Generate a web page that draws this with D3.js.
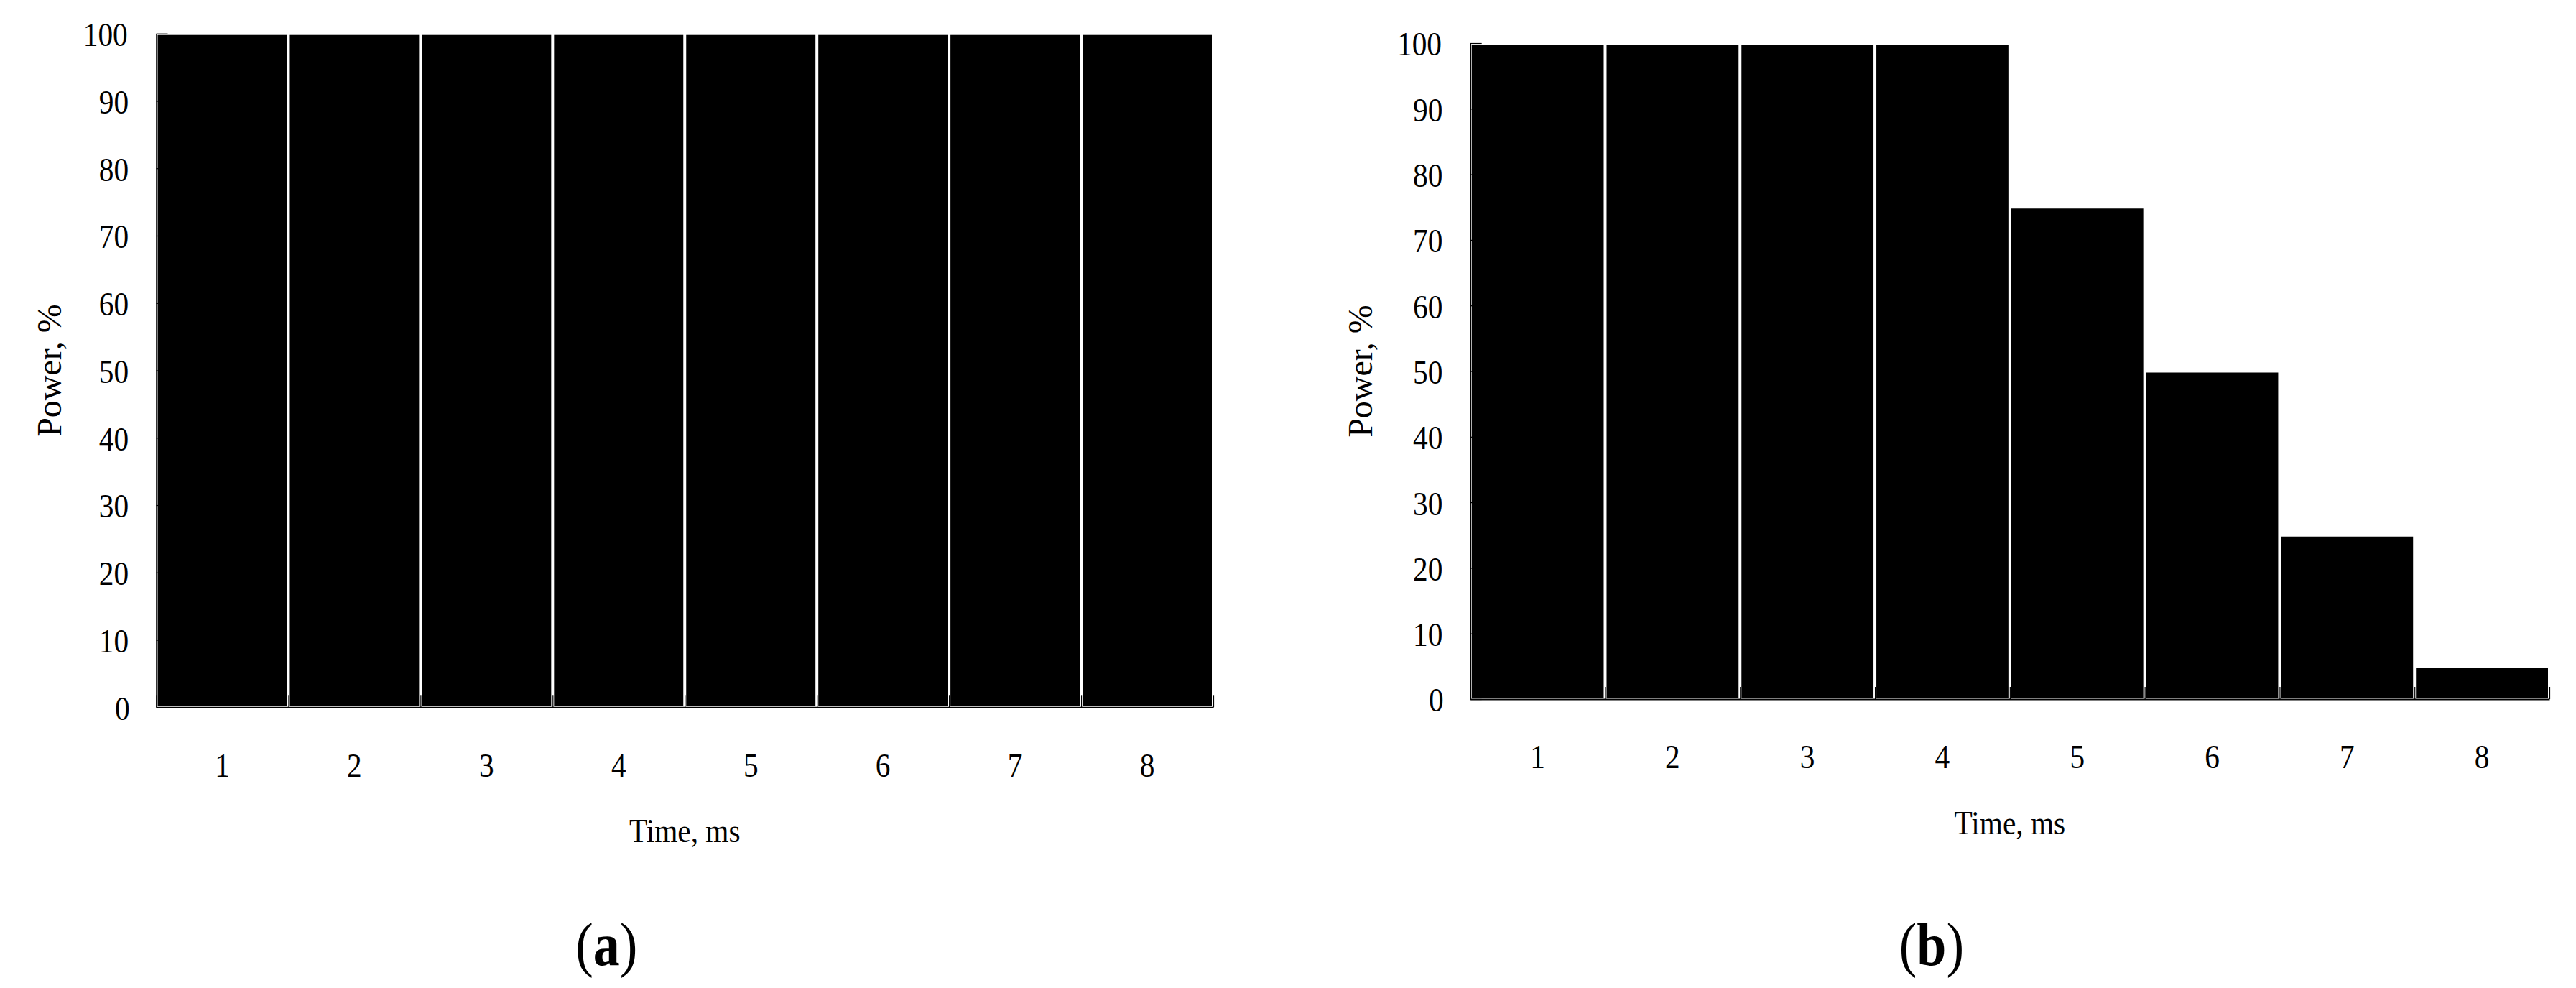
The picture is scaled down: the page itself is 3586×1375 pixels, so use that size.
<!DOCTYPE html>
<html lang="en">
<head>
<meta charset="UTF-8">
<title>Power vs time</title>
<script src="https://d3js.org/d3.v7.min.js"></script>
<style>
body { margin: 0; background: #fff; }
svg text { font-family: "Liberation Serif", "Times New Roman", serif; fill: #000; }
.lbl { transform-box: fill-box; transform-origin: center; transform: scaleX(0.88); }
.axis path, .axis line { stroke: #000; }
</style>
</head>
<body>
<svg id="chart"></svg>
<script>
// data
const times = ["1", "2", "3", "4", "5", "6", "7", "8"];
const powerA = [100, 100, 100, 100, 100, 100, 100, 100];
const powerB = [100, 100, 100, 100, 75, 50, 25, 5];
const yTicks = [0, 10, 20, 30, 40, 50, 60, 70, 80, 90, 100];
const xTitle = "Time, ms";
const yTitle = "Power, %";
const tags = ["(a)", "(b)"];

var W = 3586, H = 1375;
var svg = d3.select("#chart").attr("width", W).attr("height", H);

// plot boxes for the two panels
var layouts = [
  {x0: 217.5, x1: 1689, yTop: 46.7, yBot: 984.3, yTitleOff: 132.5},
  {x0: 2046.7, x1: 3549, yTop: 60, yBot: 973, yTitleOff: 136.5}
];

function drawPanel(values, L, tag) {
  var g = svg.append("g");

  var x = d3.scaleBand().domain(times).range([L.x0, L.x1]).padding(0);
  var edge = d3.scaleLinear().domain([0, times.length]).range([L.x0, L.x1]);
  var y = d3.scaleLinear().domain([0, 100]).range([L.yBot, L.yTop]);

  // y axis, ticks point inward
  var ya = g.append("g")
    .attr("class", "axis")
    .attr("transform", "translate(" + L.x0 + ",0)")
    .call(d3.axisLeft(y).tickValues(yTicks).tickSizeInner(-16).tickSizeOuter(0).tickPadding(35.5));
  ya.select(".domain").attr("stroke-width", 1.6);
  ya.selectAll(".tick line").attr("stroke-width", 1.2);
  ya.selectAll("text")
    .attr("class", "lbl")
    .attr("dy", "0.36em")
    .style("font-size", "47px");

  // x axis: boundary ticks between bars
  var xa = g.append("g")
    .attr("class", "axis")
    .attr("transform", "translate(0," + L.yBot + ")")
    .call(d3.axisBottom(edge).tickValues(d3.range(times.length + 1)).tickSizeInner(-17).tickSizeOuter(0).tickFormat(""));
  xa.select(".domain").attr("stroke-width", 2);
  xa.selectAll(".tick line").attr("stroke-width", 1.2);

  // category labels centred under bars
  var xl = g.append("g")
    .attr("transform", "translate(0," + L.yBot + ")")
    .call(d3.axisBottom(x).tickSize(0));
  xl.select(".domain").remove();
  xl.selectAll("text")
    .attr("class", "lbl")
    .attr("y", 96.5)
    .attr("dy", null)
    .style("font-size", "47px");

  // bars (black with a thin white rim)
  g.selectAll("rect.bar")
    .data(values)
    .join("rect")
    .attr("class", "bar")
    .attr("x", function(d, i) { return x(times[i]) + 2; })
    .attr("width", x.bandwidth() - 4)
    .attr("y", function(d) { return y(d) + 2; })
    .attr("height", function(d) { return y(0) - y(d) - 4; })
    .attr("fill", "#000");

  var cx = (L.x0 + L.x1) / 2;

  g.append("text")
    .attr("class", "lbl")
    .attr("x", cx)
    .attr("y", L.yBot + 188)
    .attr("text-anchor", "middle")
    .style("font-size", "47px")
    .text(xTitle);

  g.append("text")
    .attr("transform", "translate(" + (L.x0 - L.yTitleOff) + "," + ((L.yTop + L.yBot) / 2) + ") rotate(-90)")
    .attr("text-anchor", "middle")
    .style("font-size", "48px")
    .text(yTitle);

  var t = g.append("text")
    .attr("class", "lbl")
    .attr("x", cx - 109)
    .attr("y", 1343)
    .attr("text-anchor", "middle")
    .style("font-size", "84px");
  t.append("tspan").text(tag.charAt(0));
  t.append("tspan").style("font-weight", "bold").text(tag.charAt(1));
  t.append("tspan").text(tag.charAt(2));
}

drawPanel(powerA, layouts[0], tags[0]);
drawPanel(powerB, layouts[1], tags[1]);
</script>
</body>
</html>
